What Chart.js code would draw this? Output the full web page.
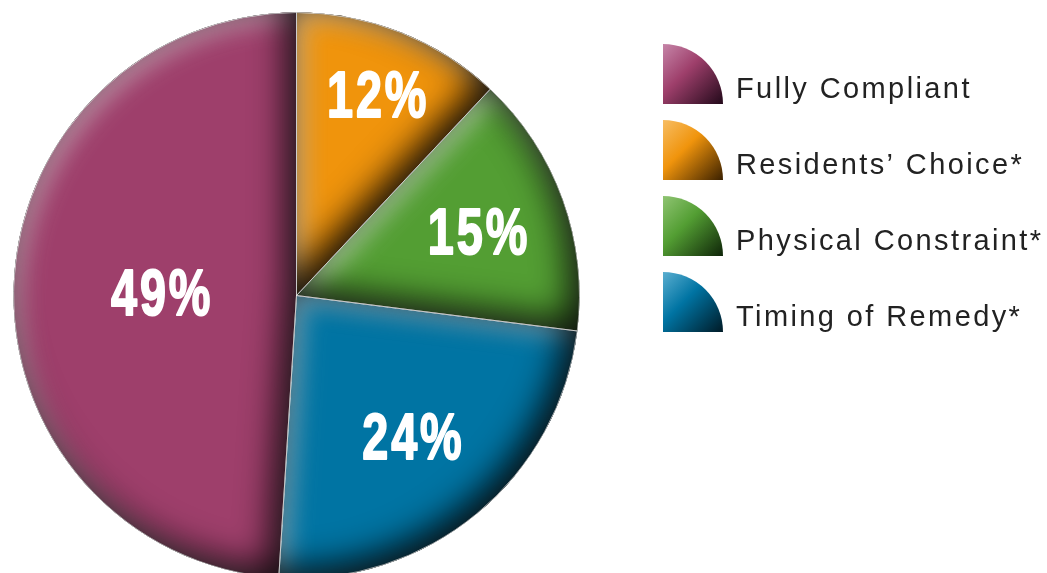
<!DOCTYPE html>
<html>
<head>
<meta charset="utf-8">
<script src="https://cdn.jsdelivr.net/npm/chart.js@4.4.1/dist/chart.umd.min.js"></script>
<style>
  html, body { margin: 0; padding: 0; background: #ffffff; overflow: hidden; }
  #wrap { position: absolute; left: 0; top: 0; width: 1047px; height: 600px; }
</style>
</head>
<body>
<div id="wrap"><canvas id="c" width="1047" height="600"></canvas></div>
<script>
// ---- data ----
const categories = ['Fully Compliant', 'Residents\u2019 Choice*', 'Physical Constraint*', 'Timing of Remedy*'];
const shares = [49, 12, 15, 24];
const pctLabels = ['49%', '12%', '15%', '24%'];

// ---- styles ----
const baseColors = ['#9e3f6b', '#f0940c', '#539e33', '#0074a3'];
const lightColors = ['#c685a8', '#f7bd63', '#8fc472', '#5aaed0'];
const darkColors = ['#22091a', '#3a2000', '#0e2408', '#001a26'];
const labelRadius = [0.48, 0.77, 0.68, 0.64];

const total = shares.reduce((a, b) => a + b, 0);
const rotationDeg = (1 - shares[0] / total) * 360;

function arcPath(ctx, a) {
  ctx.beginPath();
  ctx.moveTo(a.x, a.y);
  ctx.arc(a.x, a.y, a.outerRadius, a.startAngle, a.endAngle);
  ctx.closePath();
}

function innerShadow(ctx, a, color, blur, dx, dy, W, H) {
  ctx.save();
  arcPath(ctx, a);
  ctx.clip();
  ctx.beginPath();
  ctx.rect(-200, -200, W + 400, H + 400);
  ctx.moveTo(a.x, a.y);
  ctx.arc(a.x, a.y, a.outerRadius, a.startAngle, a.endAngle);
  ctx.closePath();
  ctx.shadowColor = color;
  ctx.shadowBlur = blur;
  ctx.shadowOffsetX = dx;
  ctx.shadowOffsetY = dy;
  ctx.fillStyle = '#000';
  ctx.fill('evenodd');
  ctx.restore();
}

const bevelPlugin = {
  id: 'bevel',
  afterDatasetsDraw(chart) {
    const ctx = chart.ctx;
    const meta = chart.getDatasetMeta(0);
    const W = chart.width, H = chart.height;
    meta.data.forEach((a) => {
      innerShadow(ctx, a, 'rgba(255,255,255,0.5)', 24, 7, 7, W, H);
      innerShadow(ctx, a, 'rgba(0,0,0,0.9)', 34, -10, -10, W, H);
    });
    meta.data.forEach((a) => {
      ctx.save();
      arcPath(ctx, a);
      ctx.strokeStyle = 'rgba(255,255,255,0.5)';
      ctx.lineWidth = 1;
      ctx.stroke();
      ctx.restore();
    });
  }
};

const labelPlugin = {
  id: 'pctLabels',
  afterDraw(chart) {
    const ctx = chart.ctx;
    const meta = chart.getDatasetMeta(0);
    meta.data.forEach((a, i) => {
      const mid = (a.startAngle + a.endAngle) / 2;
      const r = a.outerRadius * labelRadius[i];
      const x = a.x + Math.cos(mid) * r;
      const y = a.y + Math.sin(mid) * r;
      ctx.save();
      ctx.translate(x, y + 24);
      ctx.scale(0.72, 1);
      ctx.font = 'bold 65px "Liberation Sans", Arial, sans-serif';
      ctx.letterSpacing = '4px';
      ctx.fillStyle = '#ffffff';
      ctx.strokeStyle = '#ffffff';
      ctx.lineWidth = 2;
      ctx.lineJoin = 'round';
      ctx.textAlign = 'center';
      ctx.textBaseline = 'alphabetic';
      ctx.fillText(pctLabels[i], 2, 0);
      ctx.strokeText(pctLabels[i], 2, 0);
      ctx.restore();
    });

    // legend
    ctx.save();
    const lx = 663, ly = 44, size = 60, step = 76;
    categories.forEach((name, i) => {
      const top = ly + i * step;
      const g = ctx.createLinearGradient(lx, top, lx + size, top + size);
      g.addColorStop(0, lightColors[i]);
      g.addColorStop(0.42, baseColors[i]);
      g.addColorStop(1, darkColors[i]);
      ctx.beginPath();
      ctx.moveTo(lx, top + size);
      ctx.lineTo(lx, top);
      ctx.arc(lx, top + size, size, -Math.PI / 2, 0);
      ctx.closePath();
      ctx.fillStyle = g;
      ctx.fill();
      ctx.font = '29px "Liberation Sans", Arial, sans-serif';
      ctx.letterSpacing = '2.4px';
      ctx.fillStyle = '#222222';
      ctx.textAlign = 'left';
      ctx.textBaseline = 'alphabetic';
      ctx.fillText(name, 736, top + 54);
    });
    ctx.restore();
  }
};

new Chart(document.getElementById('c'), {
  type: 'pie',
  data: {
    labels: categories,
    datasets: [{
      data: shares,
      backgroundColor: baseColors,
      borderColor: 'rgba(255,255,255,0.5)',
      borderWidth: 1,
      hoverOffset: 0
    }]
  },
  options: {
    responsive: false,
    animation: false,
    devicePixelRatio: 1,
    rotation: rotationDeg,
    layout: { padding: { left: 13, top: 12, right: 467, bottom: 21 } },
    plugins: {
      legend: { display: false },
      tooltip: { enabled: false }
    }
  },
  plugins: [bevelPlugin, labelPlugin]
});
</script>
</body>
</html>
